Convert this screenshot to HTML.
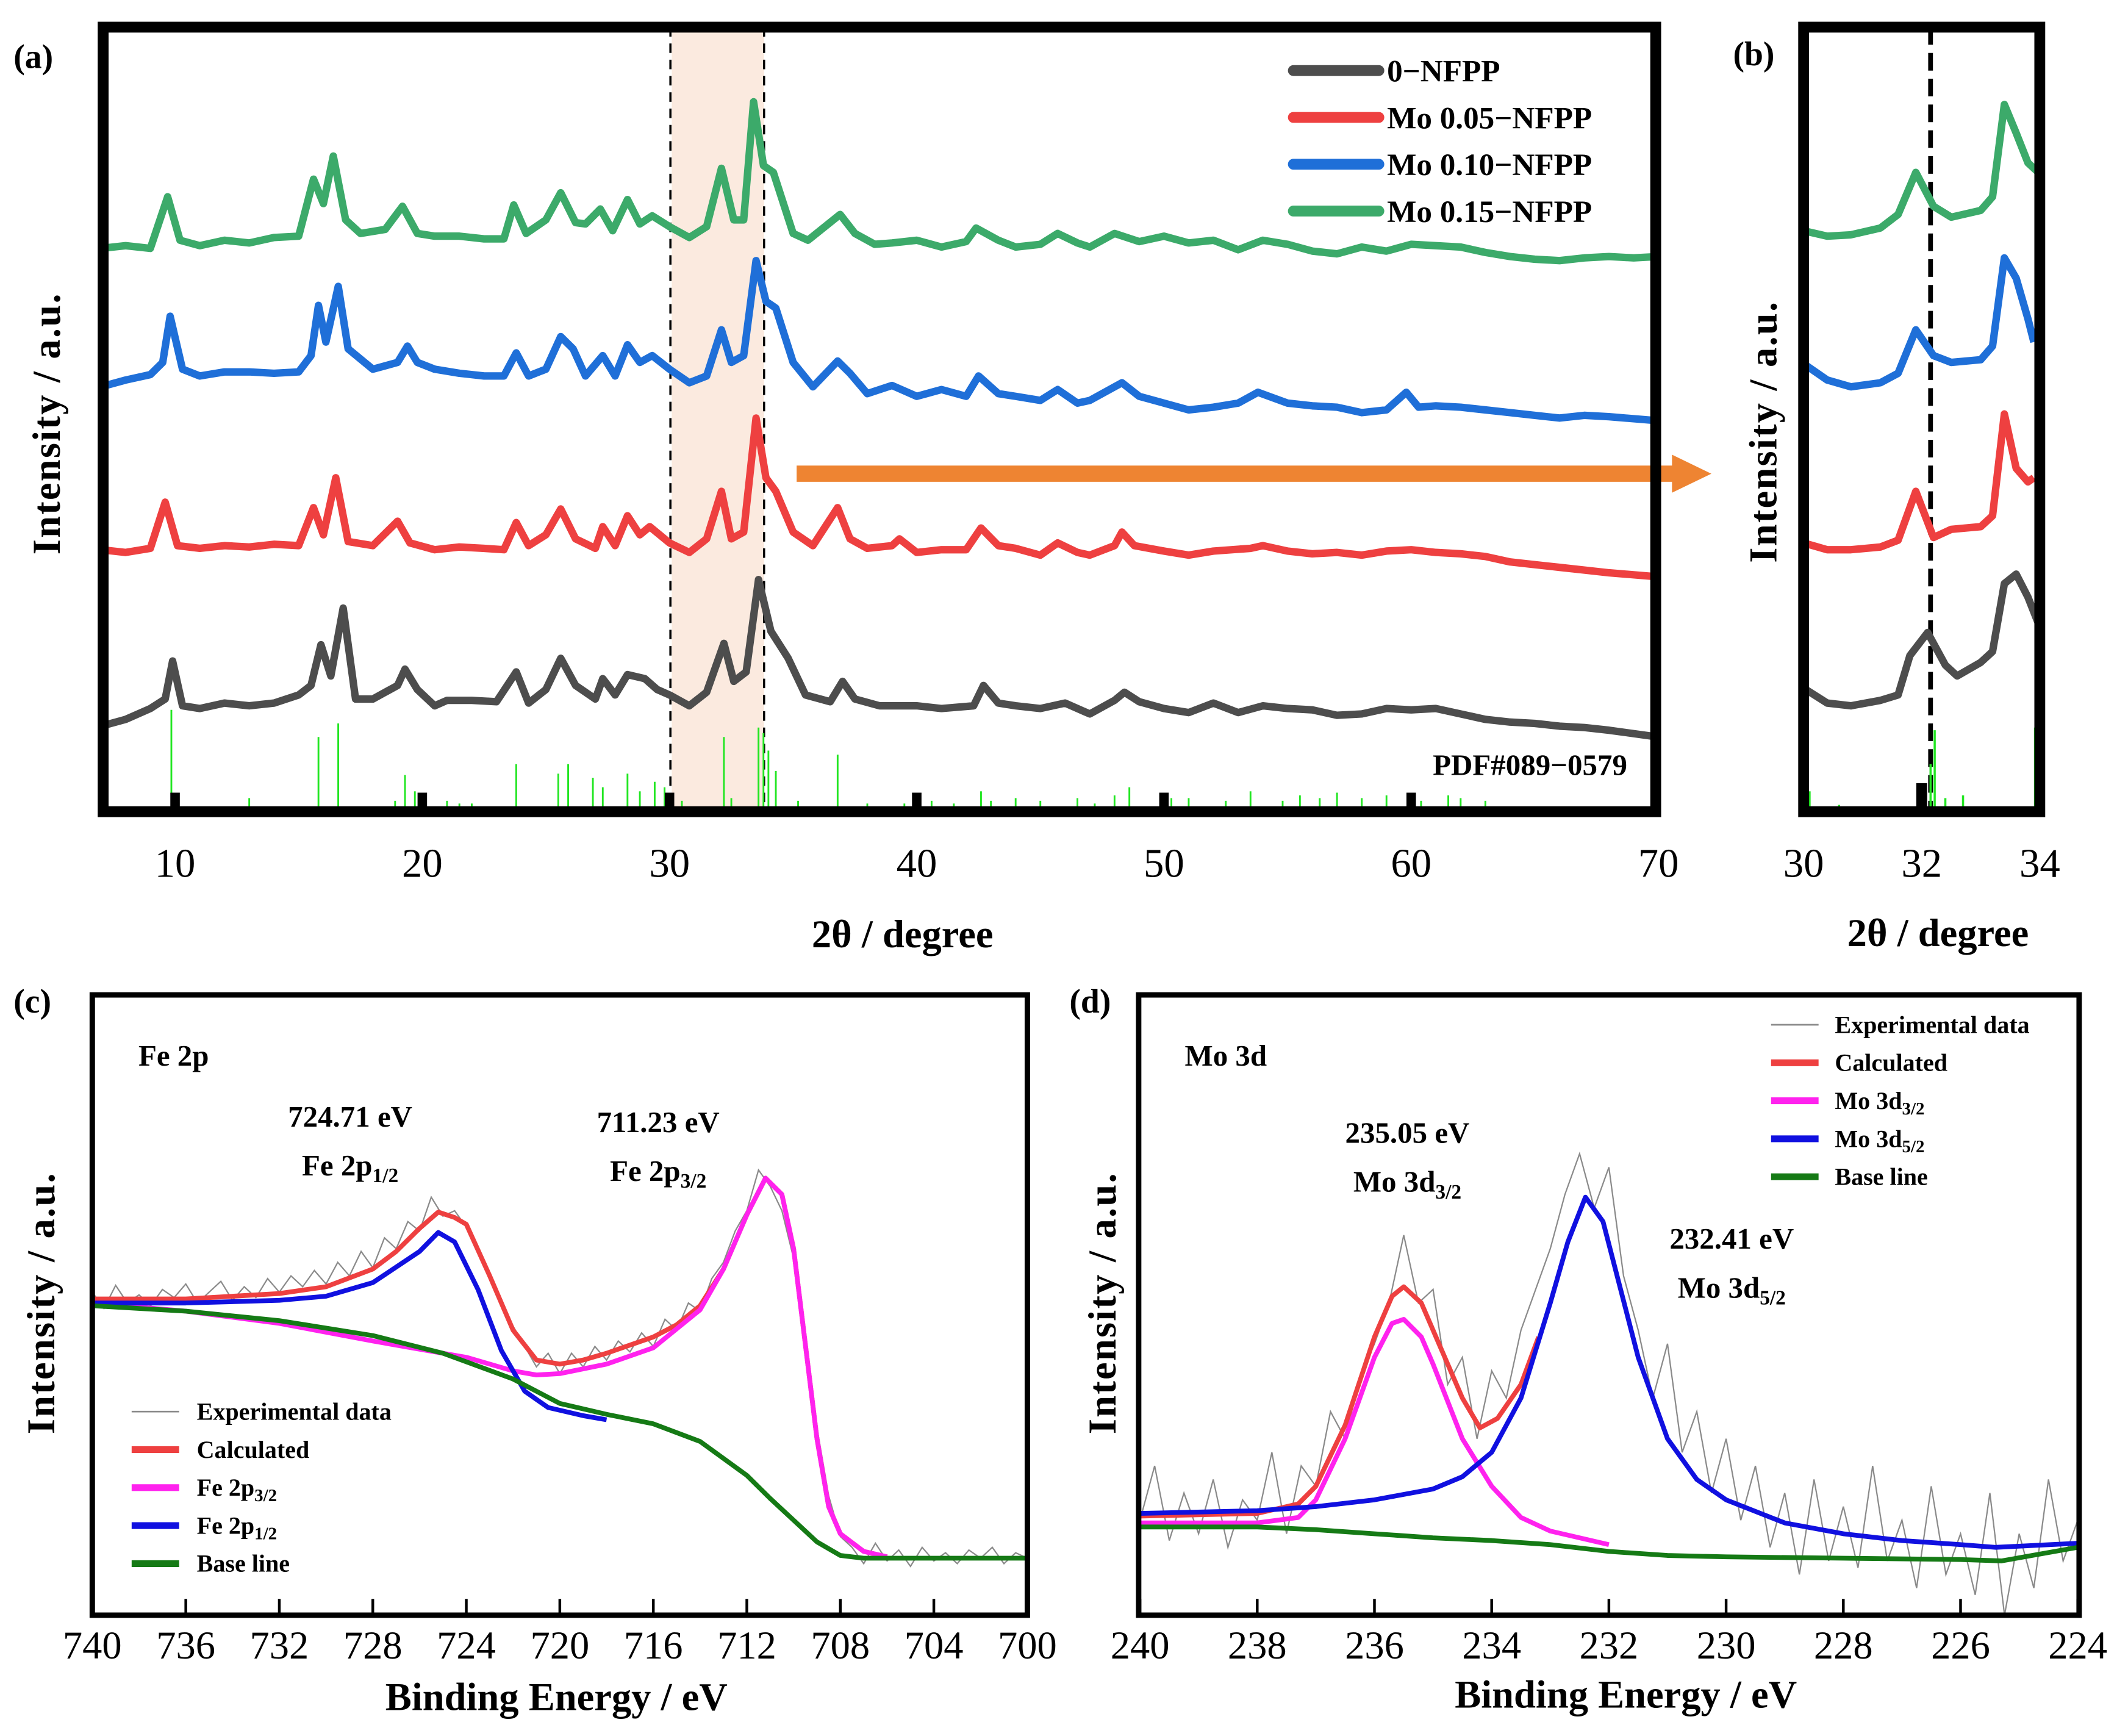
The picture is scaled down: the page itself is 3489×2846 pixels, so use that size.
<!DOCTYPE html>
<html><head><meta charset="utf-8">
<style>
html,body{margin:0;padding:0;background:#fff;}
svg{display:block;}
text{font-family:"Liberation Serif",serif;fill:#000;}
.b{font-weight:bold;}
</style></head>
<body>
<svg id="fig" xmlns="http://www.w3.org/2000/svg" width="3489" height="2846" viewBox="0 0 1568 1279" preserveAspectRatio="none">
<g id="ga"></g>
<g id="gb"></g>
<g id="gc"></g>
<g id="gd"></g>
</svg>
<script>
// ---------- Panel (a) XRD data: [2theta, intensity a.u.] ----------
const xrd0 = [[7,67],[8,72],[9,80],[9.6,87],[9.9,115],[10.3,82],[11,80],[12,84],[13,82],[14,84],[15,90],[15.5,97],[15.9,127],[16.3,104],[16.8,154],[17.3,87],[18,87],[19,97],[19.3,109],[19.8,94],[20.5,82],[21,86],[22,86],[23,85],[23.8,107],[24.3,84],[25,94],[25.6,117],[26.2,97],[27,87],[27.3,102],[27.8,90],[28.3,105],[29,102],[29.5,94],[30,90],[30.8,82],[31.5,92],[32.2,128],[32.6,100],[33.1,107],[33.6,175],[34.1,137],[34.8,117],[35.5,90],[36.5,85],[37,100],[37.5,87],[38.5,82],[40,82],[41,80],[42.3,82],[42.7,97],[43.3,84],[44,82],[45,80],[46,84],[47,76],[48,86],[48.4,92],[49,85],[50,80],[51,77],[52,84],[53,77],[54,82],[55,80],[56,79],[57,75],[58,76],[59,80],[60,79],[61,80],[62,76],[63,72],[64,70],[65,69],[66,67],[67,66],[68,64],[70,59]];
const xrd05 = [[7,197],[8,195],[9,198],[9.6,232],[10.1,200],[11,198],[12,200],[13,199],[14,201],[15,200],[15.6,228],[16,208],[16.5,250],[17,203],[18,200],[19,218],[19.5,202],[20.5,197],[21.5,199],[22.5,198],[23.3,197],[23.8,217],[24.3,200],[25,208],[25.6,227],[26.2,205],[27,198],[27.3,214],[27.8,200],[28.3,222],[28.8,208],[29.2,214],[30,202],[30.8,195],[31.5,205],[32.1,240],[32.5,205],[33,210],[33.5,294],[33.9,250],[34.3,240],[35,210],[35.8,200],[36.8,228],[37.3,205],[38,198],[39,200],[39.3,205],[40,195],[41,197],[42,197],[42.6,213],[43.3,200],[44,198],[45,193],[45.7,202],[46.5,195],[47,193],[48,200],[48.3,210],[48.8,200],[50,196],[51,193],[52,196],[53.5,198],[54,200],[55,196],[56,194],[57,195],[58,193],[59,196],[60,197],[61,195],[62,194],[63,192],[64,188],[65,186],[66,184],[67,182],[68,180],[70,177]];
const xrd10 = [[7,317],[8,322],[9,326],[9.5,335],[9.8,369],[10.3,330],[11,325],[12,328],[13,328],[14,327],[15,328],[15.5,340],[15.8,377],[16.1,350],[16.6,391],[17,345],[18,330],[19,335],[19.4,347],[19.8,335],[20.5,330],[21.5,327],[22.5,325],[23.3,325],[23.8,342],[24.3,325],[25,330],[25.6,354],[26.1,345],[26.6,325],[27.3,340],[27.8,325],[28.3,348],[28.8,335],[29.3,340],[30,330],[30.8,320],[31.5,325],[32.1,359],[32.5,335],[33,340],[33.5,410],[33.9,380],[34.3,375],[35,335],[35.8,317],[36.8,336],[37.3,327],[38,312],[39,318],[40,310],[41,315],[42,310],[42.5,325],[43.3,312],[44,310],[45,307],[45.7,315],[46.5,305],[47,307],[48.3,320],[49,310],[50,305],[51,300],[52,302],[53,305],[53.8,313],[55,305],[56,303],[57,302],[58,298],[59,300],[59.8,313],[60.3,302],[61,303],[62,302],[63,300],[64,298],[65,296],[66,294],[67,296],[68,295],[70,292]];
const xrd15 = [[7,419],[8,421],[9,419],[9.7,457],[10.2,425],[11,421],[12,425],[13,423],[14,427],[15,428],[15.6,470],[16,452],[16.4,487],[16.9,440],[17.5,430],[18.5,433],[19.2,450],[19.8,430],[20.5,428],[21.5,428],[22.5,426],[23.3,426],[23.7,451],[24.2,430],[25,440],[25.6,460],[26.2,438],[26.6,437],[27.2,448],[27.7,432],[28.3,455],[28.8,437],[29.3,443],[30,435],[30.8,427],[31.5,435],[32.1,478],[32.6,440],[33,440],[33.4,527],[33.8,480],[34.2,475],[35,430],[35.6,425],[36.9,444],[37.5,430],[38.3,422],[39,423],[40,425],[41,420],[42,424],[42.4,434],[43.3,425],[44,420],[45,422],[45.7,430],[46.5,423],[47,420],[48,430],[49,424],[50,428],[51,423],[52,425],[53,418],[54,425],[55,422],[56,417],[57,415],[58,420],[59,417],[60,422],[61,421],[62,420],[63,416],[64,413],[65,411],[66,410],[67,412],[68,413],[69,412],[70,413]];
const pdfPos = [9.85,13,15.8,16.6,18.9,19.3,19.7,21,21.5,22,23.8,25.5,25.9,26.9,27.3,28.3,28.8,29.4,29.8,30.5,32.2,32.5,33.6,33.8,34,34.3,35.2,36.8,38,39.5,40.6,41.5,42.6,43,44,45,46.5,47.2,48,48.6,50.3,51,52.5,53.5,54.8,55.5,56.3,57,58,59,60.4,61.5,62,63];
const pdfHt  = [75,10,55,65,8,27,15,8,6,6,35,28,35,25,18,28,15,22,18,8,55,10,62,58,45,30,8,42,6,6,8,6,15,8,10,8,10,6,12,18,10,10,8,15,8,12,10,14,10,12,8,12,10,8];
const refTicksA = [10,20,30,40,50,60];
const xTicksA = [10,20,30,40,50,60,70];
const legendA = ["0−NFPP","Mo 0.05−NFPP","Mo 0.10−NFPP","Mo 0.15−NFPP"];
const coloursXRD = ["#4d4d4d","#ee4040","#1f6fd8","#3caa6a"];

// ---------- Panel (b) ----------
const b0 = [[30,95],[30.4,84],[30.8,82],[31.3,86],[31.6,90],[31.8,119],[32.1,136],[32.4,112],[32.6,104],[33,114],[33.2,122],[33.4,172],[33.6,179],[33.8,162],[34,140]];
const b05 = [[30,202],[30.4,197],[30.8,197],[31.3,199],[31.6,204],[31.9,240],[32.2,206],[32.5,212],[33,214],[33.2,222],[33.4,297],[33.6,257],[33.8,247],[33.9,250]];
const b10 = [[30,334],[30.4,322],[30.8,317],[31.3,320],[31.6,327],[31.9,359],[32.2,340],[32.5,335],[33,337],[33.2,347],[33.4,412],[33.6,397],[33.8,367],[33.9,350]];
const b15 = [[30,432],[30.4,428],[30.8,429],[31.3,434],[31.6,444],[31.9,475],[32.2,450],[32.5,442],[33,447],[33.2,457],[33.4,525],[33.6,504],[33.8,482],[34,474]];
const pdfPosB = [30.1,30.6,32.15,32.22,32.4,32.7,33.92,33.97];
const pdfHtB = [15,5,35,60,10,12,62,55];
const xTicksB = [30,32,34];

// ---------- Panel (c) Fe 2p: [BE, intensity] ----------
const feExp = [[740,240],[739.5,228],[739,245],[738.5,232],[738,238],[737.5,230],[737,242],[736.5,236],[736,246],[735.5,232],[735,240],[734.5,248],[734,234],[733.5,244],[733,236],[732.5,250],[732,240],[731.5,252],[731,244],[730.5,256],[730,246],[729.5,262],[729,252],[728.5,270],[728,258],[727.5,280],[727,272],[726.5,292],[726,285],[725.5,310],[725,296],[724.5,300],[724,288],[723.5,270],[723,250],[722.5,232],[722,215],[721.5,200],[721,185],[720.5,195],[720,180],[719.5,195],[719,185],[718.5,200],[718,190],[717.5,204],[717,196],[716.5,210],[716,200],[715.5,220],[715,212],[714.5,232],[714,226],[713.5,250],[713,262],[712.5,285],[712,300],[711.5,330],[711,318],[710.5,300],[710,265],[709.5,200],[709,140],[708.5,90],[708,60],[707.5,52],[707,40],[706.5,55],[706,42],[705.5,50],[705,38],[704.5,52],[704,42],[703.5,48],[703,40],[702.5,50],[702,44],[701.5,52],[701,40],[700.5,48],[700,44]];
const feCalc = [[740,235],[736,235],[732,239],[730,244],[728,257],[727,270],[726,287],[725.2,299],[724.5,295],[724,290],[723,252],[722,212],[721,190],[720,187],[719,190],[718,195],[716,207],[715,216],[714,230],[713,257],[712,297],[711.2,324],[710.5,312],[710,272],[709.5,202],[709,132],[708.5,82],[708,62],[707,49],[706,45]];
const fe32 = [[740,232],[736,226],[732,217],[728,204],[724,192],[722,182],[721,179],[720,180],[718,187],[716,199],[714,227],[713,257],[712,297],[711.2,324],[710.5,312],[710,272],[709.5,202],[709,132],[708.5,82],[708,62],[707,49],[706,45]];
const fe12 = [[740,232],[736,232],[732,234],[730,237],[728,247],[726,270],[725.2,284],[724.5,277],[723.5,242],[722.5,197],[721.5,167],[720.5,155],[719,149],[718,146]];
const feBase = [[740,230],[736,226],[732,219],[728,208],[725,195],[722,176],[720,158],[718,150],[716,143],[714,130],[712,105],[711,88],[710,72],[709,56],[708,46],[707,44],[700,44]];
const xTicksC = [740,736,732,728,724,720,716,712,708,704,700];

// ---------- Panel (d) Mo 3d ----------
const moExp = [[240,70],[239.75,110],[239.5,55],[239.25,90],[239,60],[238.75,100],[238.5,50],[238.25,85],[238,70],[237.75,120],[237.5,60],[237.25,110],[237,95],[236.75,150],[236.5,130],[236.25,175],[236,200],[235.75,230],[235.5,280],[235.25,230],[235,240],[234.75,170],[234.5,190],[234.25,130],[234,180],[233.75,160],[233.5,210],[233.25,240],[233,270],[232.75,310],[232.5,340],[232.25,300],[232,330],[231.75,250],[231.5,210],[231.25,160],[231,200],[230.75,120],[230.5,150],[230.25,90],[230,130],[229.75,70],[229.5,110],[229.25,50],[229,90],[228.75,30],[228.5,100],[228.25,40],[228,80],[227.75,35],[227.5,110],[227.25,40],[227,70],[226.75,20],[226.5,95],[226.25,30],[226,60],[225.75,15],[225.5,90],[225.25,0],[225,60],[224.75,20],[224.5,100],[224.25,40],[224,70]];
const moCalc = [[240,73],[238,75],[237.3,82],[237,95],[236.5,140],[236,205],[235.7,235],[235.5,242],[235.2,230],[235,210],[234.5,160],[234.2,138],[233.9,145],[233.5,170],[233.2,205]];
const mo32 = [[240,68],[238,68],[237.3,72],[237,85],[236.5,130],[236,190],[235.7,215],[235.5,218],[235.2,205],[235,185],[234.5,130],[234,95],[233.5,72],[233,62],[232.5,57],[232,52]];
const mo52 = [[240,75],[238,77],[237,80],[236,85],[235,93],[234.5,102],[234,120],[233.5,160],[233,230],[232.7,275],[232.4,308],[232.1,290],[231.8,240],[231.5,190],[231,130],[230.5,100],[230,85],[229,68],[228,60],[227,55],[226,52],[225.4,50],[224,53]];
const moBase = [[240,65],[238,65],[237,63],[236,60],[235,57],[234,55],[233,52],[232,47],[231,44],[230,43],[228,42],[226,41],[225.3,40],[224,50]];
const xTicksD = [240,238,236,234,232,230,228,226,224];

const NS = "http://www.w3.org/2000/svg";
function mk(parent, tag, attrs, txt){
  const e = document.createElementNS(NS, tag);
  for (const k in attrs) e.setAttribute(k, attrs[k]);
  if (txt !== undefined) e.textContent = txt;
  parent.appendChild(e); return e;
}
function lin(d0,d1,r0,r1){ return v => r0 + (v-d0)*(r1-r0)/(d1-d0); }
function pathD(pts, sx, sy){ return pts.map((p,i)=>(i?"L":"M")+sx(p[0]).toFixed(2)+","+sy(p[1]).toFixed(2)).join(""); }

// ===== Panel a =====
const ga = document.getElementById('ga');
const ax = lin(10,70,129,1222);
let r = mk(ga,'rect',{x:495,y:20,width:68,height:578,fill:'#fbeadf'});


[494,563].forEach((x,i)=>{
  const l = mk(ga,'line',{x1:x,y1:20,x2:x,y2:598,stroke:'#000','stroke-width':1.6,'stroke-dasharray':'7,5'});
  
  
});
pdfPos.forEach((p,i)=>{
  const l = mk(ga,'line',{x1:ax(p),x2:ax(p),y1:598,y2:598-pdfHt[i],stroke:'#22e622','stroke-width':1.3});
  
  
});
refTicksA.forEach(t=>{
  const rr = mk(ga,'rect',{x:ax(t)-3.5,y:584,width:7,height:15,fill:'#000'});
  
  
});
[xrd0,xrd05,xrd10,xrd15].forEach((s,i)=>{
  const p = mk(ga,'path',{d:pathD(s,ax,v=>602-v),fill:'none',stroke:coloursXRD[i],'stroke-width':5.5,'stroke-linejoin':'round'});
  
  
});
r = mk(ga,'path',{d:'M587,343 L1232,343 L1232,335 L1261,349 L1232,363 L1232,355 L587,355 Z',fill:'#ee8432'});


r = mk(ga,'rect',{x:76,y:20,width:1144,height:578,fill:'none',stroke:'#000','stroke-width':8});


xTicksA.forEach(t=>{
  const tx = mk(ga,'text',{x:ax(t),y:646,'font-size':30,'text-anchor':'middle'},t);
  
  
});
legendA.forEach((s,i)=>{
  const y = 52+i*34.5;
  const l = mk(ga,'line',{x1:953,x2:1016,y1:y,y2:y,stroke:coloursXRD[i],'stroke-width':8,'stroke-linecap':'round'});
  
  
  const t = mk(ga,'text',{x:1022,y:y+8,'font-size':23,'class':'b'},s);
  
  
});
r = mk(ga,'text',{x:1199,y:571,'font-size':22,'class':'b','text-anchor':'end'},'PDF#089−0579');


r = mk(ga,'text',{x:10,y:50,'font-size':25,'class':'b'},'(a)');


r = mk(ga,'text',{x:44,y:312,'font-size':29,'class':'b','text-anchor':'middle',transform:'rotate(-90 44 312)','letter-spacing':'1'},'Intensity /  a.u.');


r = mk(ga,'text',{x:665,y:698,'font-size':29,'class':'b','text-anchor':'middle'},'2θ /  degree');



// ===== Panel b =====
const gb = document.getElementById('gb');
const bx = lin(30,34,1329,1503);
r = mk(gb,'line',{x1:bx(32.15),x2:bx(32.15),y1:20,y2:598,stroke:'#000','stroke-width':3.5,'stroke-dasharray':'13,6'});


pdfPosB.forEach((p,i)=>{
  const l = mk(gb,'line',{x1:bx(p),x2:bx(p),y1:598,y2:598-pdfHtB[i],stroke:'#22e622','stroke-width':1.6});
  
  
});
r = mk(gb,'rect',{x:bx(32)-4,y:577,width:8,height:22,fill:'#000'});


[b0,b05,b10,b15].forEach((s,i)=>{
  const p = mk(gb,'path',{d:pathD(s,bx,v=>602-v),fill:'none',stroke:coloursXRD[i],'stroke-width':5.5,'stroke-linejoin':'round'});
  
  
});
r = mk(gb,'rect',{x:1329,y:20,width:174,height:578,fill:'none',stroke:'#000','stroke-width':8});


xTicksB.forEach(t=>{
  const tx = mk(gb,'text',{x:bx(t),y:646,'font-size':30,'text-anchor':'middle'},t);
  
  
});
r = mk(gb,'text',{x:1277,y:48,'font-size':25,'class':'b'},'(b)');


r = mk(gb,'text',{x:1309,y:318,'font-size':29,'class':'b','text-anchor':'middle',transform:'rotate(-90 1309 318)','letter-spacing':'1'},'Intensity /  a.u.');


r = mk(gb,'text',{x:1428,y:697,'font-size':29,'class':'b','text-anchor':'middle'},'2θ /  degree');



// ===== Panel c =====
const gc = document.getElementById('gc');
const cx = lin(740,700,68,757), cy = v=>1192-v;
r = mk(gc,'path',{d:pathD(feExp,cx,cy),fill:'none',stroke:'#8a8a8a','stroke-width':1});
 
[[feCalc,'#ee4040','calculated-curve-c'],[fe32,'#ff22ee','fe2p32-curve'],[fe12,'#1010e0','fe2p12-curve'],[feBase,'#157a15','baseline-c']].forEach(a=>{
  const p = mk(gc,'path',{d:pathD(a[0],cx,cy),fill:'none',stroke:a[1],'stroke-width':3.5,'stroke-linejoin':'round'});
  
  
});
r = mk(gc,'path',{d:'M68,733 L757,733 L757,1190 L68,1190 Z',fill:'none',stroke:'#000','stroke-width':4});
 
xTicksC.forEach(t=>{
  const l = mk(gc,'line',{x1:cx(t),x2:cx(t),y1:1190,y2:1178,stroke:'#000','stroke-width':2});
   
  const tx = mk(gc,'text',{x:cx(t),y:1222,'font-size':29,'text-anchor':'middle'},t);
   
});
const legC = [['Experimental data','#8a8a8a',1.2],['Calculated','#ee4040',5],['Fe 2p3/2','#ff22ee',5],['Fe 2p1/2','#1010e0',5],['Base line','#157a15',5]];
legC.forEach((e,i)=>{
  const y = 1040+i*28;
  const l = mk(gc,'line',{x1:97,x2:132,y1:y,y2:y,stroke:e[1],'stroke-width':e[2]});
   
  const t = mk(gc,'text',{x:145,y:y+6,'font-size':18,'class':'b'});
   
  if (i===2||i===3){ t.textContent='Fe 2p'; mk(t,'tspan',{'font-size':13,dy:4},i===2?'3/2':'1/2'); }
  else t.textContent=e[0];
});
r = mk(gc,'text',{x:10,y:746,'font-size':25,'class':'b'},'(c)');
 
r = mk(gc,'text',{x:102,y:785,'font-size':22,'class':'b'},'Fe 2p');
 
r = mk(gc,'text',{x:258,y:830,'font-size':22,'class':'b','text-anchor':'middle'},'724.71 eV');
 
r = mk(gc,'text',{x:258,y:866,'font-size':22,'class':'b','text-anchor':'middle'},'Fe 2p');
mk(r,'tspan',{'font-size':15,dy:5},'1/2');
 
r = mk(gc,'text',{x:485,y:834,'font-size':22,'class':'b','text-anchor':'middle'},'711.23 eV');
 
r = mk(gc,'text',{x:485,y:870,'font-size':22,'class':'b','text-anchor':'middle'},'Fe 2p');
mk(r,'tspan',{'font-size':15,dy:5},'3/2');
 
r = mk(gc,'text',{x:40,y:960,'font-size':29,'class':'b','text-anchor':'middle',transform:'rotate(-90 40 960)','letter-spacing':'1'},'Intensity /  a.u.');
 
r = mk(gc,'text',{x:410,y:1260,'font-size':29,'class':'b','text-anchor':'middle'},'Binding Energy / eV');
 

// ===== Panel d =====
const gd = document.getElementById('gd');
const dx = lin(240,224,840,1531), dy = v=>1190-v;
r = mk(gd,'path',{d:pathD(moExp,dx,dy),fill:'none',stroke:'#8a8a8a','stroke-width':1});
 
[[moCalc,'#ee4040','calculated-curve-d'],[mo32,'#ff22ee','mo3d32-curve'],[mo52,'#1010e0','mo3d52-curve'],[moBase,'#157a15','baseline-d']].forEach(a=>{
  const p = mk(gd,'path',{d:pathD(a[0],dx,dy),fill:'none',stroke:a[1],'stroke-width':3.5,'stroke-linejoin':'round'});
  
  
});
r = mk(gd,'path',{d:'M839,733 L1532,733 L1532,1190 L839,1190 Z',fill:'none',stroke:'#000','stroke-width':4});
 
xTicksD.forEach(t=>{
  const l = mk(gd,'line',{x1:dx(t),x2:dx(t),y1:1190,y2:1178,stroke:'#000','stroke-width':2});
   
  const tx = mk(gd,'text',{x:dx(t),y:1222,'font-size':29,'text-anchor':'middle'},t);
   
});
const legD = [['Experimental data','#8a8a8a',1.2],['Calculated','#ee4040',5],['Mo 3d3/2','#ff22ee',5],['Mo 3d5/2','#1010e0',5],['Base line','#157a15',5]];
legD.forEach((e,i)=>{
  const y = 755+i*28;
  const l = mk(gd,'line',{x1:1305,x2:1340,y1:y,y2:y,stroke:e[1],'stroke-width':e[2]});
   
  const t = mk(gd,'text',{x:1352,y:y+6,'font-size':18,'class':'b'});
   
  if (i===2||i===3){ t.textContent='Mo 3d'; mk(t,'tspan',{'font-size':13,dy:4},i===2?'3/2':'5/2'); }
  else t.textContent=e[0];
});
r = mk(gd,'text',{x:788,y:746,'font-size':25,'class':'b'},'(d)');
 
r = mk(gd,'text',{x:873,y:785,'font-size':22,'class':'b'},'Mo 3d');
 
r = mk(gd,'text',{x:1037,y:842,'font-size':22,'class':'b','text-anchor':'middle'},'235.05 eV');
 
r = mk(gd,'text',{x:1037,y:878,'font-size':22,'class':'b','text-anchor':'middle'},'Mo 3d');
mk(r,'tspan',{'font-size':15,dy:5},'3/2');
 
r = mk(gd,'text',{x:1276,y:920,'font-size':22,'class':'b','text-anchor':'middle'},'232.41 eV');
 
r = mk(gd,'text',{x:1276,y:956,'font-size':22,'class':'b','text-anchor':'middle'},'Mo 3d');
mk(r,'tspan',{'font-size':15,dy:5},'5/2');
 
r = mk(gd,'text',{x:822,y:960,'font-size':29,'class':'b','text-anchor':'middle',transform:'rotate(-90 822 960)','letter-spacing':'1'},'Intensity /  a.u.');
 
r = mk(gd,'text',{x:1198,y:1258,'font-size':29,'class':'b','text-anchor':'middle'},'Binding Energy / eV');
 
</script>
</body></html>
